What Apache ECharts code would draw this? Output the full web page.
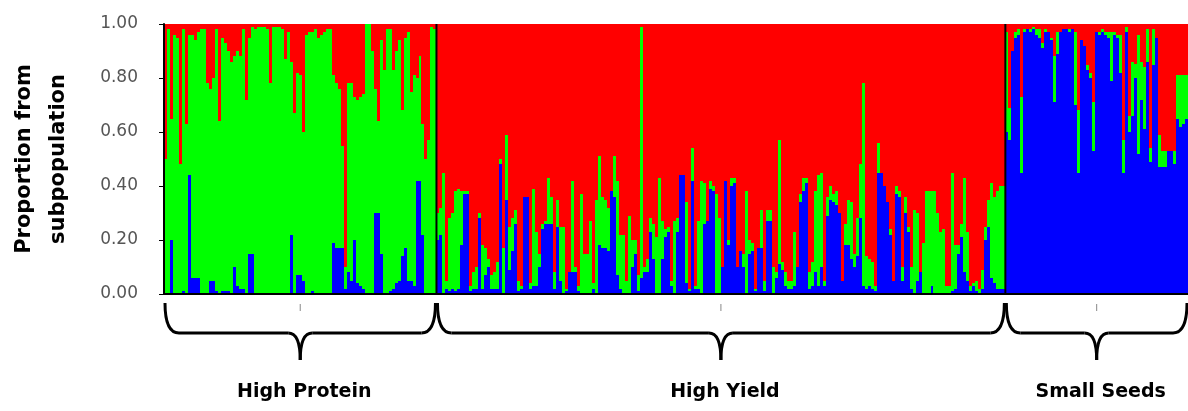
<!DOCTYPE html>
<html>
<head>
<meta charset="utf-8">
<script src="https://cdn.jsdelivr.net/npm/echarts@6/dist/echarts.min.js"></script>
<style>
html,body{margin:0;padding:0;background:#fff;}
#chart{width:1188px;height:411px;}
</style>
</head>
<body>
<div id="chart"></div>
<script>
// Group definitions (individual index ranges)
const groupNames = ['High Protein', 'High Yield', 'Small Seeds'];
const groupStarts = [0, 91, 281];
const groupEnds = [91, 281, 342];

// y-axis ticks
const yTicks = [0, 0.2, 0.4, 0.6, 0.8, 1.0];

// Colours of the three subpopulations (stack order: blue bottom, green middle, red top)
const popColors = ['#0000FF', '#00FF00', '#FF0000'];

// Membership proportions per individual
const blue = [
  // High Protein
  0,0,.20,0,0,0,.01,0,.44,.06,
  .06,.06,0,0,0,.05,.05,.01,0,.01,
  .01,.01,0,.10,.03,.02,.02,0,.15,.15,
  0,0,0,0,0,0,0,0,0,0,
  0,0,.22,0,.07,.07,.05,0,0,.01,
  0,0,0,0,0,0,.19,.17,.17,.17,
  .02,.08,.05,.20,.04,.03,.02,0,0,0,
  .30,.30,.15,0,0,.01,.02,.04,.05,.14,
  .17,.05,.05,.03,.42,.42,.22,0,0,0,
  0,
  // High Yield
  .20,.22,0,.02,.01,.02,.01,.02,.18,.37,
  .37,.01,.02,.02,.28,.02,.07,.10,.02,.02,
  .02,.48,0,.35,.09,.16,.26,.01,.02,.36,
  .36,.02,.03,.03,.10,.24,.26,.26,.26,.02,
  .25,.05,0,.01,.08,.08,.08,.01,0,0,
  0,0,.02,0,.18,.17,.17,.16,.38,.36,
  .07,.02,0,0,0,.10,.15,.01,.06,.08,
  .08,.23,.13,0,0,.13,.21,.23,.03,0,
  .23,.44,.44,.04,.01,.42,.02,.02,0,.26,
  .27,.39,.38,0,0,.10,.42,.18,.40,.41,
  .10,.16,.10,0,.15,.16,.01,.17,.17,.01,
  .27,.27,0,.06,.11,.09,.03,.02,.02,.03,
  .10,.34,.38,.41,.02,.03,.08,.03,.10,.03,
  .29,.35,.34,.33,.30,.05,.18,.18,.13,.10,
  .14,.28,.03,.02,.03,.02,.01,.45,.45,.40,
  .34,.22,.05,.37,.36,.05,.30,.23,.02,0,
  .05,.08,0,0,0,.03,0,0,0,0,
  0,0,.01,.02,.15,.21,.08,.05,.01,.03,
  .01,0,.02,.20,.25,.06,.04,.02,.02,.02,
  // Small Seeds
  .60,.57,.90,.95,.96,.45,.97,.98,.97,.98,
  .96,.95,.91,.97,.97,.94,.71,.89,.97,.98,
  .98,.97,.98,.70,.45,.94,.92,.83,.80,.53,
  .97,.96,.97,.96,.95,.79,.96,.95,.82,.45,
  .97,.60,.66,.80,.52,.72,.61,.86,.49,.85,
  .95,.47,.47,.47,.53,.53,.48,.65,.62,.63,.65
];
const green = [
  // High Protein
  .50,.98,.45,.96,.95,.48,.97,.63,.52,.90,
  .88,.91,.98,.98,.78,.71,.75,.97,.64,.94,
  .92,.89,.86,.78,.87,.86,.96,.72,.80,.84,
  .98,.99,.99,.99,.98,.78,.99,.99,.99,.98,
  .87,.97,.64,.67,.75,.74,.55,.96,.97,.96,
  .98,.95,.96,.97,.98,.98,.62,.61,.59,.38,
  .08,.70,.73,.53,.68,.70,.72,1,1,.90,
  .46,.34,.79,.83,.98,.97,.81,.86,.89,.54,
  .78,.92,.70,.78,.38,.46,.41,.50,.57,.99,
  .98,
  // High Yield
  .10,.10,.45,.03,.27,.28,.37,.37,.20,.01,
  .01,.02,.06,.08,.02,.16,.10,.03,.05,.06,
  .10,.02,.17,.24,.16,.12,.05,.04,.01,0,
  0,.02,.36,.20,.05,.02,.01,.17,.10,.06,
  .10,.20,.25,.01,0,.34,.02,.02,.37,.15,
  .15,.27,.02,.35,.33,.19,.18,.16,0,.15,
  .35,.20,.22,.05,.29,.10,.05,.06,.93,.02,
  .05,.05,.13,.21,.43,.14,.03,.02,.02,.27,
  .05,0,0,.30,.01,.12,.01,.25,.42,.15,
  0,.03,.02,.37,.28,0,0,.02,.03,.02,
  0,0,.05,.38,.05,.03,.01,0,.14,.04,
  .04,.04,.10,.02,.46,.03,.05,.03,.03,.20,
  0,.03,.05,.02,.06,.09,.30,.41,.35,.02,
  .07,.05,.03,.05,0,0,.08,.17,.21,.05,
  .14,.20,.75,.12,.10,.10,.02,.11,0,0,
  0,.02,0,.03,.02,.05,.06,.02,.08,.31,
  .25,0,.19,.38,.38,.35,.38,.30,.23,.24,
  .03,.03,.44,.16,.03,.05,.35,.18,.02,.01,
  .04,.02,.07,.05,.10,.35,.32,.36,.38,.38,
  // Small Seeds
  .37,.12,0,.02,.02,.28,.01,0,.01,.01,
  .02,.03,.02,.01,0,.01,.17,.08,0,0,
  0,.01,0,.27,.23,0,0,.02,.02,.18,
  0,.01,.01,.01,.02,.18,.01,.01,.14,.12,
  .02,.06,.20,.05,.44,.14,.23,.12,.05,.13,
  0,.12,.06,.06,0,0,.05,.16,.19,.18,.16
];
const red = [
  // High Protein
  .50,.02,.35,.04,.05,.52,.02,.37,.04,.04,
  .06,.03,.02,.02,.22,.24,.20,.02,.36,.05,
  .07,.10,.14,.12,.10,.12,.02,.28,.05,.01,
  .02,.01,.01,.01,.02,.22,.01,.01,.01,.02,
  .13,.03,.14,.33,.18,.19,.40,.04,.03,.03,
  .02,.05,.04,.03,.02,.02,.19,.22,.24,.45,
  .90,.22,.22,.27,.28,.27,.26,0,0,.10,
  .24,.36,.06,.17,.02,.02,.17,.10,.06,.32,
  .05,.03,.25,.19,.20,.12,.37,.50,.43,.01,
  .02,
  // High Yield
  .70,.68,.55,.95,.72,.70,.62,.61,.62,.62,
  .62,.97,.92,.90,.70,.82,.83,.87,.93,.92,
  .88,.50,.83,.41,.75,.72,.69,.95,.97,.64,
  .64,.96,.61,.77,.85,.74,.73,.57,.64,.92,
  .65,.75,.75,.98,.92,.58,.90,.97,.63,.85,
  .85,.73,.96,.65,.49,.64,.65,.68,.62,.49,
  .58,.78,.78,.95,.71,.80,.80,.93,.01,.90,
  .87,.72,.74,.79,.57,.73,.76,.75,.95,.73,
  .72,.56,.56,.66,.98,.46,.97,.73,.58,.59,
  .73,.58,.60,.63,.72,.90,.58,.80,.57,.57,
  .90,.84,.85,.62,.80,.81,.98,.83,.69,.95,
  .69,.69,.90,.92,.43,.88,.92,.95,.95,.77,
  .90,.63,.57,.57,.92,.88,.62,.56,.55,.95,
  .64,.60,.63,.62,.70,.95,.74,.65,.66,.85,
  .72,.52,.22,.86,.87,.88,.97,.44,.55,.60,
  .66,.76,.95,.60,.62,.90,.64,.75,.90,.69,
  .70,.92,.81,.62,.62,.62,.62,.70,.77,.76,
  .97,.97,.55,.82,.82,.74,.57,.77,.97,.96,
  .95,.98,.91,.75,.65,.59,.64,.62,.60,.60,
  // Small Seeds
  .03,.31,.10,.03,.02,.27,.02,.02,.02,.01,
  .02,.02,.07,.02,.03,.05,.12,.03,.03,.02,
  .02,.02,.02,.03,.32,.06,.08,.15,.18,.29,
  .03,.03,.02,.03,.03,.03,.03,.04,.04,.43,
  .01,.34,.14,.15,.04,.14,.16,.02,.46,.02,
  .05,.41,.47,.47,.47,.47,.47,.19,.19,.19,.19
];

const individuals = blue.map((_, i) => 'ID' + (i + 1));
const nInd = individuals.length;

const FONT = '"DejaVu Sans", sans-serif';

// Stacked membership bar for one individual; edges snapped to whole pixels so
// neighbouring bars meet without seams.
function renderIndividual(params, api) {
  const i = api.value(0);
  const vals = [api.value(1), api.value(2), api.value(3)];
  const bw = api.size([1, 0])[0];
  const cx = api.coord([i, 0])[0];
  const x0 = Math.round(cx - bw / 2), x1 = Math.round(cx + bw / 2);
  const yPix = v => Math.round(api.coord([i, v])[1]);
  const children = [];
  let base = 0;
  for (let k = 0; k < 3; k++) {
    const top = base + vals[k];
    const yB = yPix(base), yT = yPix(Math.min(top, 1));
    if (yB - yT > 0) {
      children.push({ type: 'rect', shape: { x: x0, y: yT, width: x1 - x0, height: yB - yT },
        style: { fill: popColors[k] } });
    }
    base = top;
  }
  return { type: 'group', children };
}

function renderGroup(params, api) {
  const s = api.value(0), e = api.value(1);
  const pS = api.coord([s, 0]);
  const pE = api.coord([e, 0]);
  const yTop = api.coord([s, 1])[1];
  const xs = pS[0], xe = pE[0], yb = pS[1];
  const xm = (xs + xe) / 2;
  const st = { stroke: '#000', lineWidth: 3, fill: null };
  const ya = yb + 9, yh = yb + 39, yp = yb + 66;
  const b0 = xs + 1, b1 = xe - 1;
  const children = [
    { type: 'bezierCurve', shape: { x1: b0, y1: ya, cpx1: b0, cpy1: yh, x2: b0 + 14, y2: yh }, style: st },
    { type: 'line', shape: { x1: b0 + 14, y1: yh, x2: xm - 12, y2: yh }, style: st },
    { type: 'bezierCurve', shape: { x1: xm - 12, y1: yh, cpx1: xm, cpy1: yh, x2: xm, y2: yp }, style: st },
    { type: 'bezierCurve', shape: { x1: xm + 12, y1: yh, cpx1: xm, cpy1: yh, x2: xm, y2: yp }, style: st },
    { type: 'line', shape: { x1: xm + 12, y1: yh, x2: b1 - 14, y2: yh }, style: st },
    { type: 'bezierCurve', shape: { x1: b1 - 14, y1: yh, cpx1: b1, cpy1: yh, x2: b1, y2: ya }, style: st },
    { type: 'line', shape: { x1: xm, y1: yb + 10, x2: xm, y2: yb + 17 }, style: { stroke: '#888', lineWidth: 1 } },
    { type: 'text', x: xm + 4, y: yb + 98, style: { text: groupNames[params.dataIndex], fill: '#000',
        font: 'bold 19px ' + FONT, align: 'center', verticalAlign: 'middle' } }
  ];
  if (s > 0) {
    children.push({ type: 'line', shape: { x1: xs, y1: yTop, x2: xs, y2: yb }, style: { stroke: '#000', lineWidth: 2 } });
  }
  return { type: 'group', children };
}

const chart = echarts.init(document.getElementById('chart'), null, { renderer: 'canvas' });
chart.setOption({
  animation: false,
  backgroundColor: '#fff',
  grid: { left: 162, right: 0, top: 24, bottom: 117, containLabel: false },
  xAxis: [
    { type: 'category', data: individuals, boundaryGap: true,
      axisLine: { show: true, lineStyle: { color: '#000', width: 2 } },
      axisTick: { show: false }, axisLabel: { show: false }, splitLine: { show: false }, z: 20 },
    { type: 'value', min: 0, max: nInd, show: false, gridIndex: 0 }
  ],
  yAxis: {
    type: 'value', min: yTicks[0], max: yTicks[yTicks.length - 1], interval: 0.2,
    axisLine: { show: true, lineStyle: { color: '#000', width: 2 } },
    axisTick: { show: true, length: 5, lineStyle: { color: '#000' } },
    splitLine: { show: false }, z: 20,
    axisLabel: { formatter: v => v.toFixed(2), color: '#555', fontSize: 17, fontFamily: FONT, margin: 26 },
    name: 'Proportion from\nsubpopulation', nameLocation: 'middle', nameRotate: 90, nameGap: 88,
    nameTextStyle: { fontWeight: 'bold', fontSize: 21, lineHeight: 34, color: '#000', fontFamily: FONT }
  },
  series: [
    { name: 'Membership', type: 'custom', xAxisIndex: 0, yAxisIndex: 0, silent: true,
      renderItem: renderIndividual,
      encode: { x: 0, y: 1 },
      data: individuals.map((_, i) => [i, blue[i], green[i], red[i]]) },
    { type: 'custom', xAxisIndex: 1, yAxisIndex: 0, z: 10, clip: false, silent: true,
      renderItem: renderGroup,
      data: groupStarts.map((s, i) => [s, groupEnds[i]]) }
  ]
});
</script>
</body>
</html>
